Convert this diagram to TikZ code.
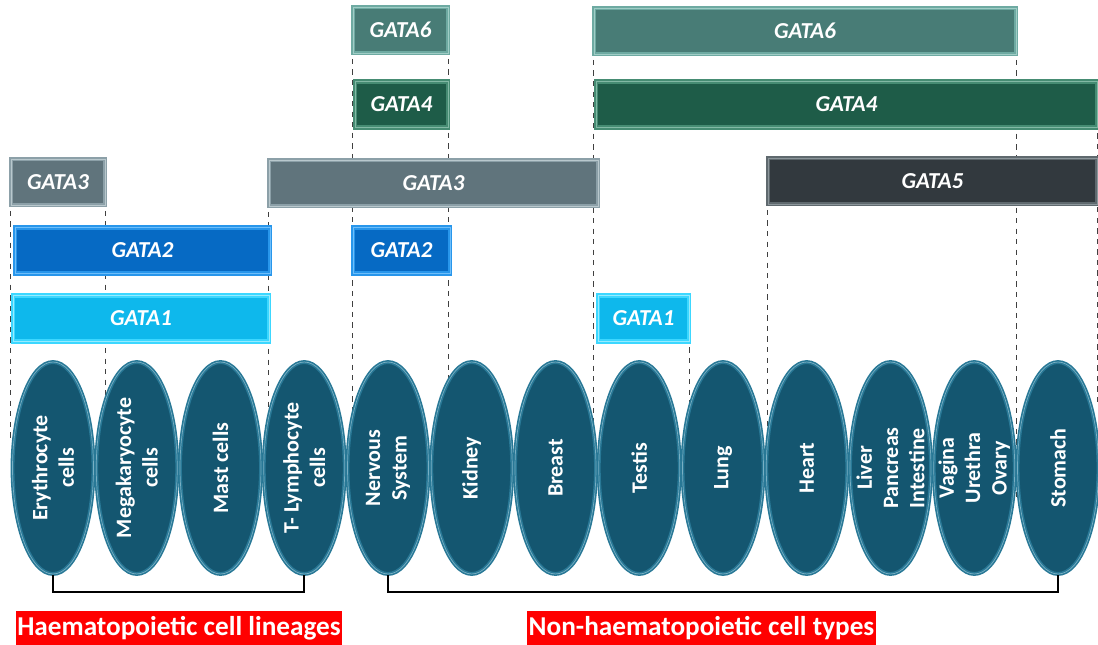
\documentclass[tikz,border=0pt]{standalone}
\usepackage{fontspec}
\setmainfont{Carlito}
\usetikzlibrary{shapes.geometric,backgrounds}
\definecolor{gsixfill}{RGB}{72,124,118}
\definecolor{gsixrim}{RGB}{110,170,162}
\definecolor{gsixline}{RGB}{160,205,198}
\definecolor{gfourfill}{RGB}{30,92,72}
\definecolor{gfourrim}{RGB}{70,140,115}
\definecolor{gfourline}{RGB}{130,185,165}
\definecolor{gfivefill}{RGB}{50,57,62}
\definecolor{gfiverim}{RGB}{95,105,110}
\definecolor{gfiveline}{RGB}{140,150,155}
\definecolor{gthreefill}{RGB}{96,116,124}
\definecolor{gthreerim}{RGB}{140,160,168}
\definecolor{gthreeline}{RGB}{185,200,205}
\definecolor{gtwofill}{RGB}{6,106,196}
\definecolor{gtworim}{RGB}{40,150,235}
\definecolor{gtwoline}{RGB}{110,190,250}
\definecolor{gonefill}{RGB}{14,184,236}
\definecolor{gonerim}{RGB}{60,215,255}
\definecolor{goneline}{RGB}{150,235,255}
\definecolor{cellfill}{RGB}{20,86,112}
\definecolor{cellrim}{RGB}{40,120,150}
\definecolor{cellline}{RGB}{120,175,195}
\tikzset{bar/.style = {rectangle,minimum height=0.92cm,inner sep=0pt,line width=0.9pt,
                       double distance=0.5pt,text=white,
                       font=\fontsize{13}{15}\selectfont\bfseries\itshape}}
\tikzset{gata6/.style = {bar,fill=gsixfill,draw=gsixrim,double=gsixline}}
\tikzset{gata4/.style = {bar,fill=gfourfill,draw=gfourrim,double=gfourline}}
\tikzset{gata5/.style = {bar,fill=gfivefill,draw=gfiverim,double=gfiveline}}
\tikzset{gata3/.style = {bar,fill=gthreefill,draw=gthreerim,double=gthreeline}}
\tikzset{gata2/.style = {bar,fill=gtwofill,draw=gtworim,double=gtwoline}}
\tikzset{gata1/.style = {bar,fill=gonefill,draw=gonerim,double=goneline}}
\tikzset{cell/.style = {ellipse,rotate=90,minimum width=4.24cm,minimum height=1.62cm,
                        fill=cellfill,draw=cellrim,line width=0.9pt,
                        double=cellline,double distance=0.4pt}}
\tikzset{celltext/.style = {rotate=90,align=center,text=white,inner sep=0pt,
                            font=\fontsize{12.5}{15}\selectfont\bfseries}}
\tikzset{tag/.style = {fill=red,text=white,minimum height=0.7cm,inner xsep=1pt,inner ysep=0pt,
                       font=\fontsize{15.5}{18}\selectfont\bfseries}}
\tikzset{guide/.style = {dashed,black!75,line width=0.5pt}}
\tikzset{bracket/.style = {black,line width=1pt}}

\begin{document}
\begin{tikzpicture}[x=0.02cm,y=-0.02cm]
    \useasboundingbox (0,0) rectangle (1098,645);

    \node[gata6,minimum width=1.9cm]   (g6a) at (400.5,30)   {GATA6};
    \node[gata6,minimum width=8.44cm]  (g6b) at (805,31)     {GATA6};
    \node[gata4,minimum width=1.86cm]  (g4a) at (401.5,104.5) {GATA4};
    \node[gata4,minimum width=10.02cm] (g4b) at (846.5,104.5) {GATA4};
    \node[gata3,minimum width=1.88cm]  (g3a) at (58,182)     {GATA3};
    \node[gata3,minimum width=6.58cm]  (g3b) at (433.5,183)  {GATA3};
    \node[gata5,minimum width=6.58cm]  (g5)  at (932.5,181)  {GATA5};
    \node[gata2,minimum width=5.1cm]   (g2a) at (142.5,250.5) {GATA2};
    \node[gata2,minimum width=1.94cm]  (g2b) at (401.5,250.5) {GATA2};
    \node[gata1,minimum width=5.12cm]  (g1a) at (141,318.5)  {GATA1};
    \node[gata1,minimum width=1.82cm]  (g1b) at (643.5,318.5) {GATA1};

    \node[cell] (c1)  at (53,468)     {};
    \node[cell] (c2)  at (136.75,468) {};
    \node[cell] (c3)  at (220.5,468)  {};
    \node[cell] (c4)  at (304.25,468) {};
    \node[cell] (c5)  at (388,468)    {};
    \node[cell] (c6)  at (471.75,468) {};
    \node[cell] (c7)  at (555.5,468)  {};
    \node[cell] (c8)  at (639.25,468) {};
    \node[cell] (c9)  at (723,468)    {};
    \node[cell] (c10) at (806.75,468) {};
    \node[cell] (c11) at (890.5,468)  {};
    \node[cell] (c12) at (974.25,468) {};
    \node[cell] (c13) at (1058,468)   {};

    \node[celltext] (t1)  at (c1)  {Erythrocyte\\cells};
    \node[celltext] (t2)  at (c2)  {Megakaryocyte\\cells};
    \node[celltext] (t3)  at (c3)  {Mast cells};
    \node[celltext] (t4)  at (c4)  {T- Lymphocyte\\cells};
    \node[celltext] (t5)  at (c5)  {Nervous\\System};
    \node[celltext] (t6)  at (c6)  {Kidney};
    \node[celltext] (t7)  at (c7)  {Breast};
    \node[celltext] (t8)  at (c8)  {Testis};
    \node[celltext] (t9)  at (c9)  {Lung};
    \node[celltext] (t10) at (c10) {Heart};
    \node[celltext] (t11) at (c11) {Liver\\Pancreas\\Intestine};
    \node[celltext] (t12) at (c12) {Vagina\\Urethra\\Ovary};
    \node[celltext] (t13) at (c13) {Stomach};

    \begin{scope}[on background layer]
        \draw[guide] (g3a.north west) -- ++(0,283);
        \draw[guide] (g3a.north east) -- ++(0,240);
        \draw[guide] (g3b.north west) -- ++(0,267);
        \draw[guide] (g6a.north west) -- ++(0,410);
        \draw[guide] (g6a.north east) -- ++(0,381);
        \draw[guide] (g6b.north west) -- ++(0,463);
        \draw[guide] (g1b.north east) -- ++(0,134);
        \draw[guide] (g5.north west)  -- ++(0,286);
        \draw[guide] (g6b.north east) -- ++(0,490);
        \draw[guide] (g4b.north east) -- ++(0,323);
    \end{scope}

    \draw[bracket] (c1.west) -- ++(0,17) -| (c4.west);
    \draw[bracket] (c5.west) -- ++(0,17) -| (c13.west);

    \node[tag] (hae)    at (179,628)   {Haematopoietic cell lineages};
    \node[tag] (nonhae) at (701.5,628) {Non-haematopoietic cell types};
\end{tikzpicture}
\end{document}
